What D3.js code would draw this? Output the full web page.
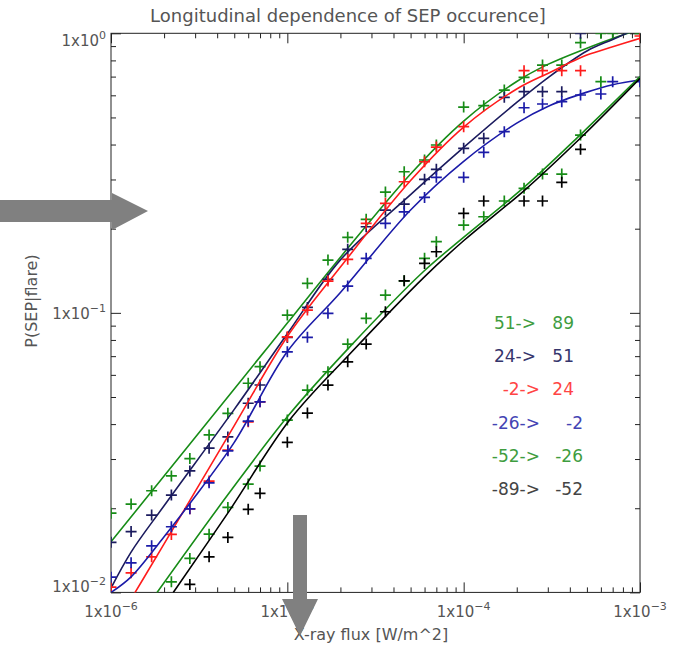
<!DOCTYPE html>
<html><head><meta charset="utf-8">
<script src="https://cdn.jsdelivr.net/npm/d3@7"></script>
<style>body{margin:0;background:#fff}text{font-family:"DejaVu Sans",sans-serif}</style>
</head><body>
<svg id="chart" width="683" height="646"></svg>
<script>
// Flare peak-flux bins (W/m^2)
const flux = [
  1e-6, 1.3e-6, 1.7e-6, 2.2e-6, 2.8e-6, 3.6e-6, 4.6e-6, 6e-6, 7e-6,
  1e-5, 1.3e-5, 1.7e-5, 2.2e-5, 2.8e-5, 3.6e-5, 4.6e-5, 6e-5, 7e-5,
  1e-4, 1.3e-4, 1.7e-4, 2.2e-4, 2.8e-4, 3.6e-4, 4.6e-4, 6e-4, 7e-4,
  1e-3
];

// Observed P(SEP|flare) per longitude band (null = no point)
const pW89 = [0.0192,0.0207,0.0231,0.0261,0.0301,0.0366,0.0437,0.0560,0.0642,
  0.0982,0.1275,0.1545,0.1863,0.216,0.2704,0.3197,0.3522,0.3985,
  0.5447,0.5508,0.6267,0.6958,0.770,0.770,0.9256,1.0,1.0,1.0];
const pW51 = [0.0151,0.0165,0.0189,0.0223,0.0272,0.0328,0.0360,0.0475,0.0552,
  0.0817,0.1046,0.1318,0.1687,0.2032,0.2332,0.2450,0.3003,0.3261,
  0.3878,0.4210,0.5902,0.6181,0.6181,0.6181,1.0,null,null,null];
const pW24 = [0.01045,0.01175,0.01341,0.01612,0.01991,0.02501,0.03229,0.04076,0.04807,
  0.0821,0.1023,0.1299,0.1554,0.2090,0.2464,0.2944,0.3472,0.3919,
  0.4633,null,null,0.7349,0.7349,0.7349,0.7349,null,null,0.978];
const pE2 = [0.01134,0.01276,0.01468,0.01717,0.01991,0.02466,0.0321,0.0410,0.04807,
  0.07257,0.08173,0.09959,0.1247,0.1567,0.2090,0.2299,0.2588,0.3053,
  0.3053,0.3752,0.4446,0.5417,0.5585,0.5693,0.6015,0.6065,0.6711,0.6711];
const pE26 = [null,null,null,0.01091,0.01323,0.01616,0.02014,0.0244,0.0283,
  0.04134,0.05294,0.06155,0.07732,0.09556,0.1158,0.1302,0.1567,0.1797,
  0.2061,0.2207,0.2512,0.2789,0.3137,0.3137,0.4326,0.6711,null,null];
const pE52 = [null,null,null,null,0.01068,0.01341,0.01573,0.01982,0.02261,
  0.03441,0.0438,0.05516,0.06683,0.07732,0.1009,0.1302,0.1503,0.1654,
  0.2270,0.2512,null,0.2512,0.2512,0.2930,0.3846,null,null,null];

// Fitted curves, [flux, probability]
const fitW89 = [[1e-6,0.01517],[2e-6,0.02609],[5e-6,0.05346],[1e-5,0.09194],[2e-5,0.1581],[5e-5,0.314],
  [1e-4,0.4855],[2e-4,0.6724],[3e-4,0.774],[5e-4,0.885],[7e-4,0.959],[1e-3,1.033]];
const fitW51 = [[1e-6,0.01036],[1.3e-6,0.01394],[2e-6,0.02042],[5e-6,0.04515],[1e-5,0.0842],[2e-5,0.1547],
  [5e-5,0.2647],[1e-4,0.3906],[2e-4,0.566],[3e-4,0.6932],[5e-4,0.8643],[7e-4,0.951],[1e-3,1.05]];
const fitW24 = [[1e-6,0.00718],[2e-6,0.01491],[5e-6,0.03949],[1e-5,0.0823],[2e-5,0.1458],[5e-5,0.2973],
  [1e-4,0.4618],[2e-4,0.632],[3e-4,0.7186],[5e-4,0.8356],[7e-4,0.8948],[1e-3,0.9597]];
const fitE2 = [[1e-6,0.0100],[1.3e-6,0.01137],[2e-6,0.01582],[2.8e-6,0.0208],[5e-6,0.0344],[1e-5,0.0727],
  [2e-5,0.1183],[5e-5,0.2333],[1e-4,0.3485],[2e-4,0.4773],[3e-4,0.5476],[5e-4,0.616],[7e-4,0.655],[1e-3,0.6808]];
const fitE26 = [[1.82e-6,0.00997],[4.72e-6,0.02285],[1.03e-5,0.04343],[2.26e-5,0.07555],[5.88e-5,0.1400],
  [1.01e-4,0.1872],[2.22e-4,0.2826],[4.68e-4,0.4387],[1e-3,0.6995]];
const fitE52 = [[2.25e-6,0.00997],[4.72e-6,0.0197],[1.03e-5,0.04134],[2.26e-5,0.07122],[6.01e-5,0.1348],
  [1.01e-4,0.1822],[2.22e-4,0.2750],[4.68e-4,0.4266],[1e-3,0.6902]];

// Longitude bands (degrees): from -> to
const bandFrom = [51, 24, -2, -26, -52, -89];
const bandTo   = [89, 51, 24, -2, -26, -52];

const xTicks = [1e-6, 1e-5, 1e-4, 1e-3];
const yTicks = [1e-2, 1e-1, 1];

const series = [
  {pts: pW89, fit: fitW89, line: "#178c17", text: "#3f9d3f"},
  {pts: pW51, fit: fitW51, line: "#1b1b5e", text: "#35356c"},
  {pts: pW24, fit: fitW24, line: "#ff1c1c", text: "#ff4444"},
  {pts: pE2,  fit: fitE2,  line: "#1b1ba8", text: "#4444b4"},
  {pts: pE26, fit: fitE26, line: "#178c17", text: "#3f9d3f"},
  {pts: pE52, fit: fitE52, line: "#000000", text: "#444444"}
];

const svg = d3.select("#chart");
const L = 111, R = 640, T = 33.3, B = 592.4;
const x = d3.scaleLog().domain([1e-6, 1e-3]).range([L, R]);
const y = d3.scaleLog().domain([1e-2, 1]).range([B, T]);

const axisColor = "#222";
const labelColor = "#555";

svg.append("defs").append("clipPath").attr("id", "plotclip")
  .append("rect").attr("x", L).attr("y", T).attr("width", R - L).attr("height", B - T);

// minor tick values
function minors(lo, hi) {
  const out = [];
  for (let e = lo; e < hi; e++) for (let m = 2; m <= 9; m++) out.push(m * Math.pow(10, e));
  return out;
}
const xMinor = minors(-6, -3), yMinor = minors(-2, 0);

function styleAxis(g) {
  g.select(".domain").remove();
  g.selectAll("line").attr("stroke", axisColor).attr("stroke-width", 1);
  g.selectAll("text").remove();
}
// bottom / top
svg.append("g").attr("transform", `translate(0,${B})`).call(d3.axisBottom(x).tickValues(xTicks).tickSize(-10)).call(styleAxis);
svg.append("g").attr("transform", `translate(0,${B})`).call(d3.axisBottom(x).tickValues(xMinor).tickSize(-5)).call(styleAxis);
svg.append("g").attr("transform", `translate(0,${T})`).call(d3.axisTop(x).tickValues(xTicks).tickSize(-10)).call(styleAxis);
svg.append("g").attr("transform", `translate(0,${T})`).call(d3.axisTop(x).tickValues(xMinor).tickSize(-5)).call(styleAxis);
// left / right
svg.append("g").attr("transform", `translate(${L},0)`).call(d3.axisLeft(y).tickValues(yTicks).tickSize(-10)).call(styleAxis);
svg.append("g").attr("transform", `translate(${L},0)`).call(d3.axisLeft(y).tickValues(yMinor).tickSize(-5)).call(styleAxis);
svg.append("g").attr("transform", `translate(${R},0)`).call(d3.axisRight(y).tickValues(yTicks).tickSize(-10)).call(styleAxis);
svg.append("g").attr("transform", `translate(${R},0)`).call(d3.axisRight(y).tickValues(yMinor).tickSize(-5)).call(styleAxis);

svg.append("rect").attr("x", L).attr("y", T).attr("width", R - L).attr("height", B - T)
  .attr("fill", "none").attr("stroke", axisColor).attr("stroke-width", 1);

// power-of-ten labels
function sci(px, py, v, anchor) {
  const e = Math.round(Math.log10(v));
  const t = svg.append("text").attr("x", px).attr("y", py).attr("text-anchor", anchor)
    .attr("font-size", 15).attr("fill", labelColor).text("1x10");
  t.append("tspan").attr("dy", -7).attr("font-size", 11).text(e < 0 ? "\u2212" + (-e) : String(e));
}
xTicks.forEach(v => sci(x(v), 617, v, "middle"));
yTicks.forEach(v => {
  const shift = v === 1 ? 8 : (v === 1e-2 ? -5 : 1);
  sci(L - 5, y(v) + shift + 5, v, "end");
});

svg.append("text").attr("x", 348).attr("y", 22).attr("text-anchor", "middle")
  .attr("font-size", 18).attr("fill", labelColor).text("Longitudinal dependence of SEP occurence]");
svg.append("text").attr("x", 371).attr("y", 640).attr("text-anchor", "middle")
  .attr("font-size", 16).attr("fill", labelColor).text("X-ray flux [W/m^2]");
svg.append("text").attr("transform", "translate(37,301) rotate(-90)").attr("text-anchor", "middle")
  .attr("font-size", 16).attr("fill", labelColor).text("P(SEP|flare)");

// data
const plot = svg.append("g").attr("clip-path", "url(#plotclip)");
const line = d3.line().x(d => x(d[0])).y(d => y(d[1])).curve(d3.curveCatmullRom.alpha(0.5));
const cross = "M-5.5,0H5.5M0,-5.5V5.5";
series.forEach(s => {
  const pts = flux.map((f, i) => [f, s.pts[i]]).filter(d => d[1] != null);
  plot.append("g").selectAll("path").data(pts).join("path")
    .attr("transform", d => `translate(${x(d[0])},${y(d[1])})`)
    .attr("d", cross).attr("stroke", s.line).attr("stroke-width", 1.7).attr("fill", "none");
  plot.append("path").datum(s.fit).attr("d", line)
    .attr("fill", "none").attr("stroke", s.line).attr("stroke-width", 1.6);
});

// legend
const lg = svg.append("g");
series.forEach((s, i) => {
  const yy = 329 + i * 33.2;
  lg.append("text").attr("x", bandFrom[i] < 0 ? 540 : 536).attr("y", yy).attr("text-anchor", "end")
    .attr("font-size", 17).attr("fill", s.text).text(`${bandFrom[i]}->`);
  lg.append("text").attr("x", bandTo[i] < 0 ? 583 : 574).attr("y", yy).attr("text-anchor", "end")
    .attr("font-size", 17).attr("fill", s.text).text(`${bandTo[i]}`);
});

// annotation arrows
const gray = "#808080";
svg.append("path").attr("fill", gray)
  .attr("d", "M0,200H112V193L148,211L112,230V222H0Z");
svg.append("path").attr("fill", gray)
  .attr("d", "M293,515H307V599H318L300,636L282,599H293Z");
</script>
</body></html>
